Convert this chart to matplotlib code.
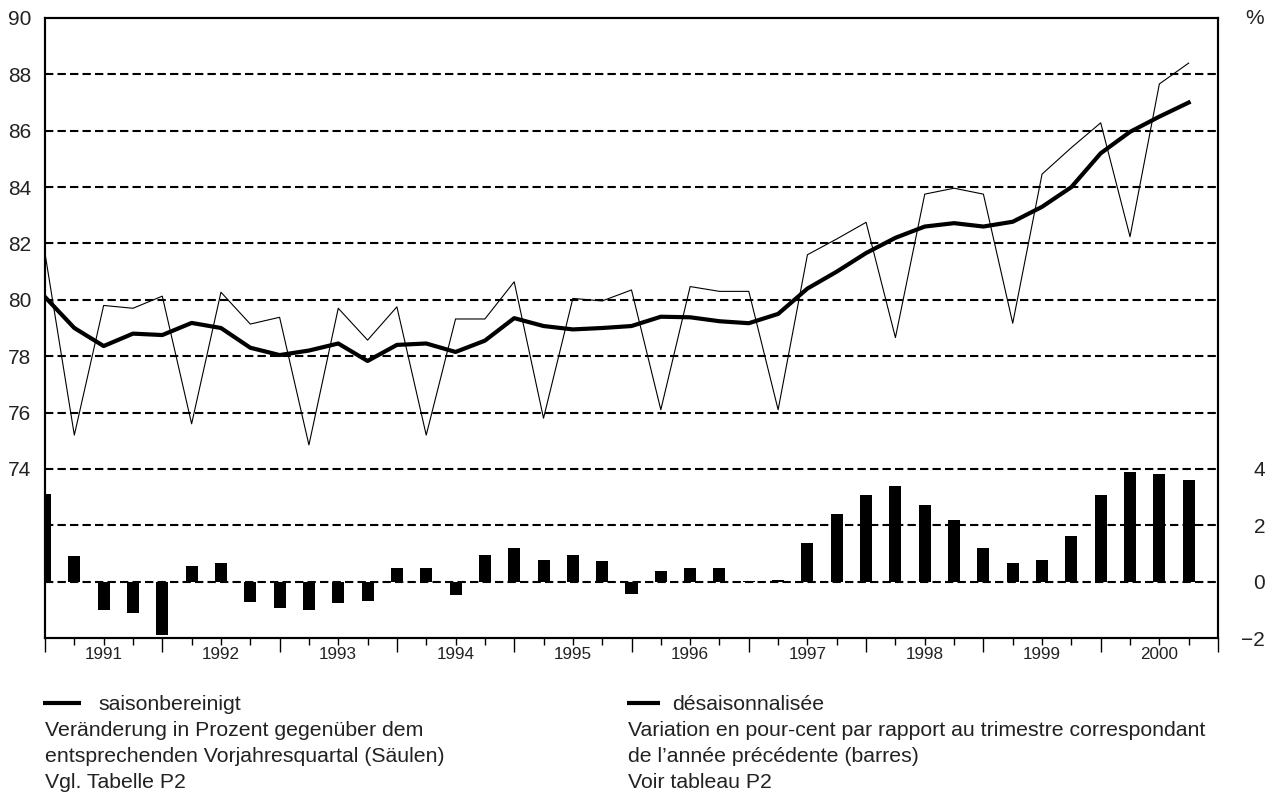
import numpy as np
import matplotlib.pyplot as plt
from matplotlib.lines import Line2D
import matplotlib.transforms as mtransforms

plt.rcParams['font.family'] = ['Liberation Sans', 'DejaVu Sans']

# квартальные данные 1991 Q1 .. 2000 Q4
years = ['1991', '1992', '1993', '1994', '1995', '1996', '1997', '1998', '1999', '2000']

# исходный ряд (тонкая линия), %
raw = [81.65, 75.2, 79.8, 79.7, 80.13, 75.6, 80.27, 79.14, 79.38, 74.85,
       79.7, 78.57, 79.75, 75.2, 79.32, 79.32, 80.64, 75.8, 80.05, 79.96,
       80.35, 76.1, 80.47, 80.3, 80.3, 76.1, 81.6, 82.16, 82.75, 78.66,
       83.75, 83.96, 83.75, 79.17, 84.46, 85.4, 86.28, 82.24, 87.66, 88.4]

# сезонно скорректированный ряд (толстая линия), %
sa = [80.1, 79.0, 78.36, 78.8, 78.75, 79.18, 79.0, 78.3, 78.04, 78.2,
      78.45, 77.83, 78.4, 78.45, 78.15, 78.55, 79.35, 79.07, 78.95, 79.0,
      79.07, 79.4, 79.38, 79.24, 79.17, 79.5, 80.4, 81.0, 81.66, 82.2,
      82.6, 82.72, 82.6, 82.77, 83.3, 84.0, 85.2, 85.96, 86.5, 87.0]

# изменение к соответствующему кварталу прошлого года (столбцы), %
change = [3.1, 0.91, -1.0, -1.1, -1.9, 0.56, 0.66, -0.72, -0.93, -1.0,
          -0.76, -0.69, 0.49, 0.49, -0.47, 0.95, 1.2, 0.77, 0.95, 0.73,
          -0.44, 0.38, 0.49, 0.49, 0.02, 0.06, 1.37, 2.4, 3.08, 3.4,
          2.72, 2.19, 1.2, 0.66, 0.77, 1.62, 3.08, 3.89, 3.82, 3.61]

x = np.arange(len(raw))

fig = plt.figure(figsize=(12.79, 7.94), dpi=100)
ax = fig.add_axes([45 / 1279, 1 - 638 / 794, (1218 - 45) / 1279, (638 - 18) / 794])
ax2 = ax.twinx()

ax.set_xlim(0, 40)
ax.set_ylim(68, 90)
ax2.set_ylim(-2, 20)

# пунктирная сетка
for g in range(70, 90, 2):
    ax.axhline(g, color='black', lw=1.5, ls=(0, (4, 2)), zorder=1)

ax2.bar(x, change, width=0.41, color='black', zorder=2, clip_on=True)
ax.plot(x, raw, color='black', lw=0.8, zorder=3)
ax.plot(x, sa, color='black', lw=3.0, zorder=4, solid_joinstyle='round')

ax.set_zorder(ax2.get_zorder() + 1)
ax.patch.set_visible(False)

# оси
for a in (ax, ax2):
    for s in a.spines.values():
        s.set_linewidth(1.5)

ax.set_xticks(np.arange(0, 41, 4))
ax.set_xticks(np.arange(0, 41, 1), minor=True)
ax.tick_params(axis='x', which='major', length=10, width=1, labelbottom=False)
ax.tick_params(axis='x', which='minor', length=5, width=1)
trans = mtransforms.blended_transform_factory(ax.transData, ax.transAxes)
for i, yr in enumerate(years):
    ax.text(2 + 4 * i, -0.015, yr, transform=trans, ha='center', va='top',
            fontsize=12.3, color='#222222')

ax.set_yticks(np.arange(74, 91, 2))
ax.tick_params(axis='y', which='both', length=0, pad=10, labelsize=15,
               labelcolor='#222222')

ax2.set_yticks([-2, 0, 2, 4])
ax2.tick_params(axis='y', length=0, pad=34, labelsize=15, labelcolor='#222222')
for lab in ax2.get_yticklabels():
    lab.set_ha('right')

fig.text(1255 / 1279, 1 - 18 / 794, '%', ha='center', va='center',
         fontsize=15, color='#222222')

# подписи внизу
fs = 15.3
col_l, col_r = 45 / 1279, 628 / 1279
rows = [704, 731, 757, 782]
for cx, w in ((43, 38), (627, 33)):
    fig.add_artist(Line2D([cx / 1279, (cx + w) / 1279], [1 - 703 / 794] * 2,
                          color='black', lw=3.0, solid_capstyle='butt',
                          transform=fig.transFigure))
fig.text(98 / 1279, 1 - rows[0] / 794, 'saisonbereinigt',
         va='center', fontsize=fs, color='#222222')
fig.text(col_l, 1 - rows[1] / 794, 'Veränderung in Prozent gegenüber dem',
         va='center', fontsize=fs, color='#222222')
fig.text(col_l, 1 - rows[2] / 794, 'entsprechenden Vorjahresquartal (Säulen)',
         va='center', fontsize=fs, color='#222222')
fig.text(col_l, 1 - rows[3] / 794, 'Vgl. Tabelle P2',
         va='center', fontsize=fs, color='#222222')
fig.text(672 / 1279, 1 - rows[0] / 794, 'désaisonnalisée',
         va='center', fontsize=fs, color='#222222')
fig.text(col_r, 1 - rows[1] / 794,
         'Variation en pour-cent par rapport au trimestre correspondant',
         va='center', fontsize=fs, color='#222222')
fig.text(col_r, 1 - rows[2] / 794, 'de l’année précédente (barres)',
         va='center', fontsize=fs, color='#222222')
fig.text(col_r, 1 - rows[3] / 794, 'Voir tableau P2',
         va='center', fontsize=fs, color='#222222')

fig.savefig('out.png', dpi=100)
